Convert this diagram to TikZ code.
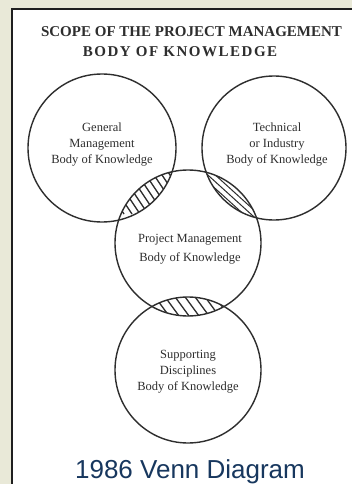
\documentclass[tikz,border=0pt]{standalone}
\usepackage{fontspec}
\setmainfont{Liberation Serif}
\newfontfamily\captionfont{Liberation Sans}
\definecolor{inkgray}{HTML}{2E2E2E}
\definecolor{paper}{HTML}{E9E9D8}
\definecolor{captionblue}{HTML}{17375E}
\begin{document}
\begin{tikzpicture}[x=1pt,y=-1pt,
  ring/.style={draw=inkgray,line width=1.4pt},
  hatch/.style={draw=inkgray,line width=1.3pt},
  hatchthin/.style={draw=inkgray,line width=1pt},
  titletext/.style={text=inkgray,anchor=base,inner sep=0pt,
    font=\fontsize{15}{18}\selectfont\bfseries},
  circlelabel/.style={text=inkgray,align=center,anchor=base,inner sep=0pt,
    font=\fontsize{12.5}{16}\selectfont},
  captiontext/.style={text=captionblue,anchor=base,inner sep=0pt,
    font=\captionfont\fontsize{26}{30}\selectfont}]

% page background and white panel with its top/left rule
\useasboundingbox (0,0) rectangle (352,484);
\fill[paper] (0,0) rectangle (352,484);
\fill[white] (12,9) rectangle (352,484);
\draw[line width=1.6pt,black!88] (12,484) -- (12,9) -- (352,9);

% circle centres
\coordinate (gmc) at (102,148);
\coordinate (tic) at (274,148);
\coordinate (pmc) at (188,243);
\coordinate (sdc) at (188,370);

% hatched overlap: general management / project management
\begin{scope}
  \clip (gmc) circle[radius=74pt];
  \clip (pmc) circle[radius=73pt];
  \foreach \x in {40,48,...,200} \draw[hatch] (\x,160) -- ++(36,54);
\end{scope}

% hatched overlap: technical / project management
\begin{scope}
  \clip (tic) circle[radius=72pt];
  \clip (pmc) circle[radius=73pt];
  \begin{scope}[shift={(231,196)},rotate=-42.2]
    \foreach \s in {-5,0,5} \draw[hatchthin] (-60,\s) -- (60,\s);
  \end{scope}
\end{scope}

% hatched overlap: project management / supporting disciplines
\begin{scope}
  \clip (pmc) circle[radius=73pt];
  \clip (sdc) circle[radius=73pt];
  \foreach \x in {110,120,...,260} \draw[hatch] (\x,290) -- ++(22,30);
\end{scope}

% the four circles
\draw[ring] (gmc) circle[radius=74pt];
\draw[ring] (tic) circle[radius=72pt];
\draw[ring] (pmc) circle[radius=73pt];
\draw[ring] (sdc) circle[radius=73pt];

% title
\node[titletext] (title1) at (191.5,37) {SCOPE OF THE PROJECT MANAGEMENT};
\node[titletext] (title2) at (180,57) {\addfontfeature{LetterSpace=10}BODY OF KNOWLEDGE};

% circle labels (anchored at the baseline of the last line)
\node[circlelabel] (gmlabel) at (102,163.5) {General\\Management\\Body of Knowledge};
\node[circlelabel] (tilabel) at (277,163.5) {Technical\\or Industry\\Body of Knowledge};
\node[circlelabel,font=\fontsize{12.5}{18.5}\selectfont] (pmlabel) at (190,261) {Project Management\\Body of Knowledge};
\node[circlelabel] (sdlabel) at (188,390) {Supporting\\Disciplines\\Body of Knowledge};

% caption
\node[captiontext] (caption) at (190,478) {1986 Venn Diagram};
\end{tikzpicture}
\end{document}
